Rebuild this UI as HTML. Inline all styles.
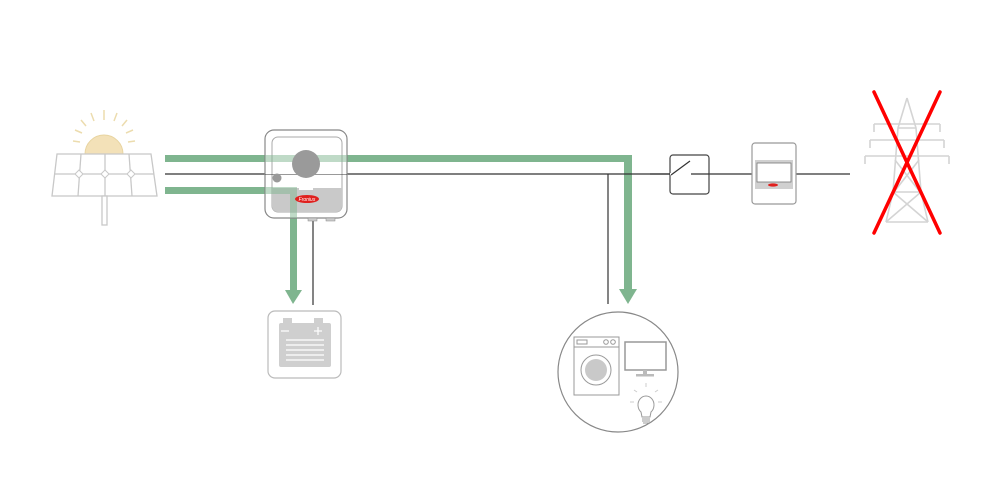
<!DOCTYPE html>
<html><head><style>html,body{margin:0;padding:0;background:#fff;width:1000px;height:500px;overflow:hidden}</style></head>
<body>
<svg width="1000" height="500" viewBox="0 0 1000 500" xmlns="http://www.w3.org/2000/svg">
<rect width="1000" height="500" fill="#fff"/>
<!-- sun -->
<g stroke="#ecdcae" stroke-width="1.5" fill="none">
<line x1="104" y1="110" x2="104" y2="120"/><line x1="91" y1="113" x2="94" y2="121"/><line x1="117" y1="113" x2="114" y2="121"/>
<line x1="81" y1="120" x2="86" y2="126"/><line x1="127" y1="120" x2="122" y2="126"/>
<line x1="75" y1="130" x2="82" y2="133"/><line x1="133" y1="130" x2="126" y2="133"/>
<line x1="73" y1="141" x2="80" y2="142"/><line x1="135" y1="141" x2="128" y2="142"/>
</g>
<path d="M85 154 A19 19 0 0 1 123 154 Z" fill="#f3e1b8" stroke="#e8d4a0"/>
<!-- panel -->
<g stroke="#c8c8c8" stroke-width="1.3" fill="#fff">
<polygon points="57,154 151,154 157,196 52,196"/>
<line x1="55" y1="174" x2="154" y2="174"/>
<line x1="81" y1="154" x2="78" y2="196"/><line x1="105" y1="154" x2="105" y2="196"/><line x1="129" y1="154" x2="132" y2="196"/>
<rect x="102" y="196" width="5" height="29"/>
</g>
<g fill="#fff" stroke="#c8c8c8"><polygon points="79,170 83,174 79,178 75,174"/><polygon points="105,170 109,174 105,178 101,174"/><polygon points="131,170 135,174 131,178 127,174"/></g>
<!-- green lines -->
<g fill="#7fb58f">
<rect x="165" y="155" width="467" height="7"/>
<rect x="165" y="187" width="130" height="7"/>
<rect x="624" y="155" width="8" height="135"/>
<rect x="290" y="187" width="7" height="103"/>
<polygon points="285,290 302,290 293,304"/>
<polygon points="619,289 637,289 628,304"/>
</g>
<!-- black lines -->
<g stroke="#333" stroke-width="1.2">
<line x1="165" y1="174" x2="850" y2="174"/>
<line x1="608" y1="174" x2="608" y2="304"/>
<line x1="313" y1="218" x2="313" y2="305"/>
</g>
<!-- inverter -->
<rect x="265" y="130" width="82" height="88" rx="9" fill="#fff" stroke="#888" stroke-width="1.2"/>
<rect x="272" y="137" width="70" height="75" rx="6" fill="#fff" stroke="#aaa"/>
<path d="M272 188 H342 V206 a6 6 0 0 1 -6 6 H278 a6 6 0 0 1 -6 -6 Z" fill="#c9c9c9"/>
<rect x="265" y="155" width="82" height="7" fill="#7fb58f" opacity="0.5"/>
<rect x="265" y="174" width="82" height="1" fill="#333" opacity="0.5"/>
<rect x="265" y="187" width="32" height="7" fill="#7fb58f" opacity="0.5"/>
<rect x="290" y="194" width="7" height="24" fill="#7fb58f" opacity="0.5"/>
<circle cx="306" cy="164" r="14" fill="#9a9a9a"/>
<circle cx="277" cy="178" r="4.5" fill="#9a9a9a"/>
<rect x="299" y="187" width="14" height="3" fill="#fff"/>
<ellipse cx="307" cy="199" rx="12" ry="4" fill="#e0201e"/>
<text x="307" y="201" font-family="Liberation Sans, sans-serif" font-size="5" font-style="italic" fill="#fff" text-anchor="middle">Fronius</text>
<rect x="308" y="218" width="9" height="3" fill="#ccc" stroke="#888" stroke-width="0.5"/>
<rect x="326" y="218" width="9" height="3" fill="#ccc" stroke="#888" stroke-width="0.5"/>
<!-- battery -->
<rect x="268" y="311" width="73" height="67" rx="7" fill="#fff" stroke="#bbb" stroke-width="1.2"/>
<rect x="279" y="323" width="52" height="44" rx="2" fill="#cfcfcf"/>
<rect x="283" y="318" width="9" height="6" fill="#cfcfcf"/><rect x="314" y="318" width="9" height="6" fill="#cfcfcf"/>
<g stroke="#fff" stroke-width="1.2"><line x1="281" y1="331" x2="289" y2="331"/><line x1="314" y1="331" x2="322" y2="331"/><line x1="318" y1="327" x2="318" y2="335"/>
<line x1="286" y1="340" x2="324" y2="340"/><line x1="286" y1="345" x2="324" y2="345"/><line x1="286" y1="350" x2="324" y2="350"/><line x1="286" y1="355" x2="324" y2="355"/><line x1="286" y1="360" x2="324" y2="360"/></g>
<!-- loads -->
<circle cx="618" cy="372" r="60" fill="#fff" stroke="#888" stroke-width="1.2"/>
<rect x="574" y="337" width="45" height="58" fill="#fff" stroke="#999"/>
<line x1="574" y1="347" x2="619" y2="347" stroke="#999"/>
<rect x="577" y="340" width="10" height="4" fill="none" stroke="#999"/>
<circle cx="606" cy="342" r="2.3" fill="none" stroke="#999"/><circle cx="613" cy="342" r="2.3" fill="none" stroke="#999"/>
<circle cx="596" cy="370" r="15" fill="#fff" stroke="#999"/><circle cx="596" cy="370" r="11" fill="#c9c9c9"/>
<rect x="625" y="342" width="41" height="28" fill="#fff" stroke="#999" stroke-width="1.5"/>
<rect x="643" y="370" width="4" height="4" fill="#bbb"/><rect x="636" y="374" width="18" height="2.5" fill="#bbb"/>
<path d="M641 412 a8 9 0 1 1 10 0 l-1 5 h-8 z" fill="none" stroke="#999"/>
<g stroke="#999"><line x1="642" y1="419" x2="650" y2="419"/><line x1="642" y1="421" x2="650" y2="421"/><line x1="643" y1="423" x2="649" y2="423"/></g>
<g stroke="#ccc"><line x1="646" y1="383" x2="646" y2="387"/><line x1="634" y1="390" x2="637" y2="392"/><line x1="658" y1="390" x2="655" y2="392"/><line x1="630" y1="402" x2="634" y2="402"/><line x1="662" y1="402" x2="658" y2="402"/></g>
<!-- switch -->
<rect x="670" y="155" width="39" height="39" rx="3" fill="#fff" stroke="#444" stroke-width="1.2"/>
<line x1="650" y1="174" x2="670" y2="174" stroke="#333" stroke-width="1.2"/>
<line x1="670" y1="174" x2="690" y2="174" stroke="#fff" stroke-width="2"/>
<line x1="671" y1="175" x2="690" y2="161" stroke="#333" stroke-width="1.2"/>
<line x1="691" y1="174" x2="709" y2="174" stroke="#333" stroke-width="1.2"/>
<!-- meter -->
<rect x="752" y="143" width="44" height="61" rx="3" fill="#fff" stroke="#999" stroke-width="1.2"/>
<rect x="755" y="160" width="38" height="29" fill="#d0d0d0"/>
<rect x="757" y="163" width="34" height="19" fill="#fff" stroke="#777" stroke-width="0.8"/>
<ellipse cx="773" cy="185" rx="5" ry="1.6" fill="#e0201e"/>
<!-- pylon -->
<g stroke="#d4d4d4" stroke-width="1.6" fill="none">
<polyline points="907,98 898,128 893,192 886,222"/>
<polyline points="907,98 916,128 921,192 928,222"/>
<line x1="898" y1="128" x2="916" y2="128"/>
<line x1="874" y1="124" x2="940" y2="124"/>
<line x1="870" y1="140" x2="944" y2="140"/>
<line x1="865" y1="156" x2="949" y2="156"/>
<line x1="874" y1="124" x2="874" y2="132"/><line x1="940" y1="124" x2="940" y2="132"/>
<line x1="870" y1="140" x2="870" y2="148"/><line x1="944" y1="140" x2="944" y2="148"/>
<line x1="865" y1="156" x2="865" y2="164"/><line x1="949" y1="156" x2="949" y2="164"/>
<line x1="893" y1="192" x2="921" y2="192"/><line x1="886" y1="222" x2="928" y2="222"/>
<line x1="895" y1="160" x2="920" y2="192"/><line x1="919" y1="160" x2="894" y2="192"/>
<line x1="893" y1="192" x2="928" y2="222"/><line x1="921" y1="192" x2="886" y2="222"/>
</g>
<g stroke="#ff0000" stroke-width="3.5" stroke-linecap="round">
<line x1="874" y1="92" x2="940" y2="233"/>
<line x1="940" y1="92" x2="874" y2="233"/>
</g>
</svg>
</body></html>
